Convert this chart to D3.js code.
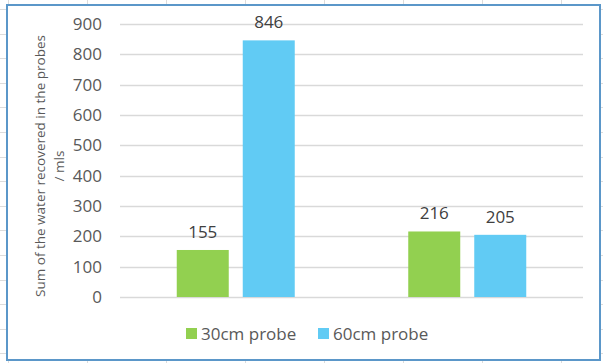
<!DOCTYPE html>
<html>
<head>
<meta charset="utf-8">
<script src="https://cdn.jsdelivr.net/npm/d3@7"></script>
<style>
  body { margin: 0; background: #fff; }
  svg text { font-family: "Open Sans", sans-serif; }
</style>
</head>
<body>
<div class="chart"></div>
<script>
// chart data
const groups = ['Group 1', 'Group 2']
const seriesNames = ['30cm probe', '60cm probe']
const probe30 = [155, 216]
const probe60 = [846, 205]
const yTicks = [0, 100, 200, 300, 400, 500, 600, 700, 800, 900]
const yTitle = ['Sum of the water recovered in the probes', '/ mls']

const colors = ['#92d050', '#61cbf4']

let w = 603,
    h = 363,
    plotLeft = 120,
    plotRight = 583,
    plotTop = 24,
    plotBottom = 297

const svg = d3.select('.chart')
              .append('svg')
              .attr('width', w)
              .attr('height', h)

// spreadsheet cells behind the chart
const cells = svg.append('g').attr('stroke', '#dcdcdc').attr('stroke-width', 1)
cells.selectAll('line.v')
     .data(d3.range(8, w, 79))
     .enter().append('line')
     .attr('x1', d => d + 0.5).attr('x2', d => d + 0.5)
     .attr('y1', 0).attr('y2', h)
cells.selectAll('line.h')
     .data(d3.range(9, h, 24.6))
     .enter().append('line')
     .attr('x1', 0).attr('x2', w)
     .attr('y1', d => Math.round(d) + 0.5).attr('y2', d => Math.round(d) + 0.5)

// chart area
svg.append('rect')
   .attr('x', 7)
   .attr('y', 5)
   .attr('width', 593)
   .attr('height', 355)
   .attr('fill', '#fff')
   .attr('stroke', '#5b97c9')
   .attr('stroke-width', 2)

const yScale = d3.scaleLinear()
                 .domain([0, 900])
                 .range([plotBottom, plotTop])

const x0 = d3.scaleBand()
             .domain(groups)
             .range([plotLeft, plotRight])

const groupW = 118
const x1 = d3.scaleBand()
             .domain(seriesNames)
             .range([0, groupW])
             .paddingInner(14 / 66)

// gridlines
svg.append('g')
   .selectAll('line')
   .data(yTicks)
   .enter().append('line')
   .attr('x1', plotLeft)
   .attr('x2', plotRight)
   .attr('y1', d => Math.round(yScale(d)) + 0.5)
   .attr('y2', d => Math.round(yScale(d)) + 0.5)
   .attr('stroke', '#d9d9d9')
   .attr('stroke-width', 1.5)

const yAxis = d3.axisLeft(yScale)
                .tickValues(yTicks)
                .tickSize(0)
                .tickPadding(18)
const gy = svg.append('g')
              .attr('transform', `translate(${plotLeft},0)`)
              .call(yAxis)
gy.select('.domain').remove()
gy.selectAll('text')
  .attr('font-size', 17)
  .attr('fill', '#595959')
  .style('font-family', '"Open Sans", sans-serif')

// bars
const rows = groups.map((g, i) => ({
  group: g,
  values: [
    { name: seriesNames[0], value: probe30[i], color: colors[0] },
    { name: seriesNames[1], value: probe60[i], color: colors[1] }
  ]
}))

const gGroups = svg.selectAll('.grp')
                   .data(rows)
                   .enter().append('g')
                   .attr('class', 'grp')
                   .attr('transform', d => `translate(${x0(d.group) + (x0.bandwidth() - groupW) / 2},0)`)

gGroups.selectAll('rect')
       .data(d => d.values)
       .enter().append('rect')
       .attr('x', d => x1(d.name))
       .attr('y', d => yScale(d.value))
       .attr('width', x1.bandwidth())
       .attr('height', d => yScale(0) - yScale(d.value))
       .attr('fill', d => d.color)

gGroups.selectAll('text')
       .data(d => d.values)
       .enter().append('text')
       .attr('x', d => x1(d.name) + x1.bandwidth() / 2)
       .attr('y', d => yScale(d.value) - 12)
       .attr('text-anchor', 'middle')
       .attr('font-size', 17)
       .attr('fill', '#404040')
       .text(d => d.value)

// axis title
const title = svg.append('text')
                 .attr('transform', 'translate(45,166) rotate(-90)')
                 .attr('text-anchor', 'middle')
                 .attr('font-size', 13.5)
                 .attr('fill', '#595959')
title.selectAll('tspan')
     .data(yTitle)
     .enter().append('tspan')
     .attr('x', 0)
     .attr('dy', (d, i) => i ? 19 : 0)
     .text(d => d)

// legend
const legend = svg.append('g').attr('id', 'legend')
const legendX = [186, 318]
seriesNames.forEach((name, i) => {
  legend.append('rect')
        .attr('x', legendX[i])
        .attr('y', 328)
        .attr('width', 11)
        .attr('height', 11)
        .attr('fill', colors[i])
  legend.append('text')
        .attr('x', legendX[i] + 15)
        .attr('y', 340)
        .attr('font-size', 17)
        .attr('fill', '#595959')
        .text(name)
})
</script>
</body>
</html>
